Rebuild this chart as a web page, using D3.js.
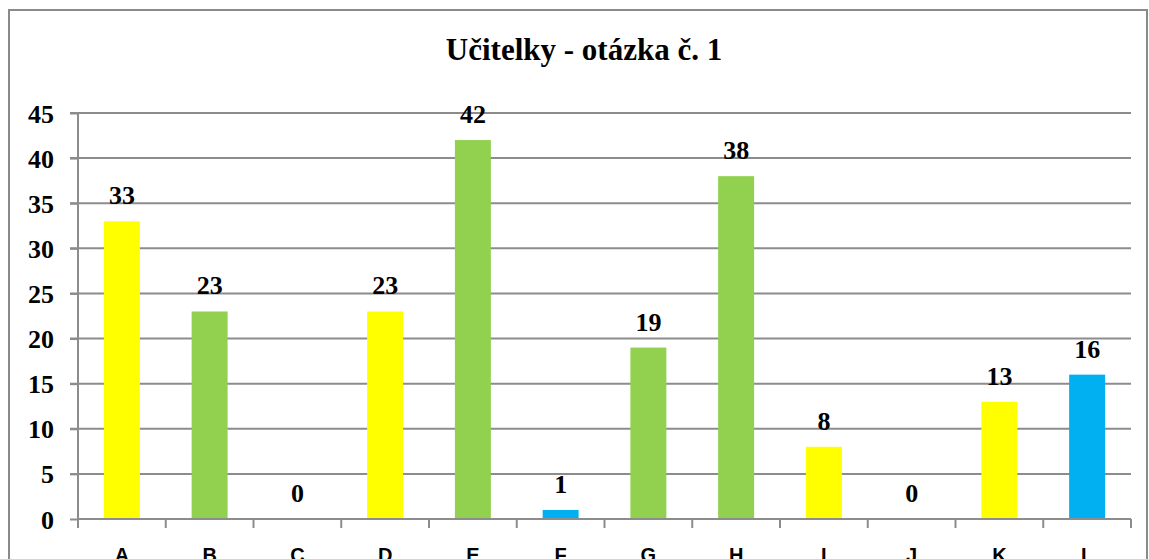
<!DOCTYPE html>
<html>
<head>
<meta charset="utf-8">
<script src="https://cdn.jsdelivr.net/npm/d3@7"></script>
<style>
  body { margin: 0; background: #fff; }
  svg { display: block; }
</style>
</head>
<body>
<div id="chart"></div>
<script>

var title = "Učitelky - otázka č. 1"

var categories = ["A", "B", "C", "D", "E", "F", "G", "H", "I", "J", "K", "L"]

var values = [33, 23, 0, 23, 42, 1, 19, 38, 8, 0, 13, 16]

var barColors = ["#FFFF00", "#92D050", "#92D050", "#FFFF00", "#92D050", "#00B0F0",
                 "#92D050", "#92D050", "#FFFF00", "#FFFF00", "#FFFF00", "#00B0F0"]

var yTicks = [0, 5, 10, 15, 20, 25, 30, 35, 40, 45]

var width = 1149
var height = 559

// plot area edges (window.top is read-only, so no plain "top")
var plotLeft = 78, plotRight = 1131, plotTop = 113, plotBottom = 519

var gridColor = "#8c8c8c"

var svg = d3.select("#chart")
	.append("svg")
	.attr("width", width)
	.attr("height", height)

// outer chart border (bottom runs off the picture)
svg.append("rect")
	.attr("x", 9)
	.attr("y", 10)
	.attr("width", 1138)
	.attr("height", 600)
	.attr("fill", "none")
	.attr("stroke", "#8a8a8a")
	.attr("stroke-width", 2)

svg.append("text")
	.attr("x", 584)
	.attr("y", 60)
	.attr("text-anchor", "middle")
	.attr("font-family", "'Liberation Serif', 'Times New Roman', serif")
	.attr("font-weight", "bold")
	.attr("font-size", 31)
	.text(title)

var x = d3.scaleBand()
	.domain(categories)
	.range([plotLeft, plotRight])
	.paddingInner(0.59)
	.paddingOuter(0.295)

var y = d3.scaleLinear()
	.domain([0, 45])
	.range([plotBottom, plotTop])

// gridlines
svg.append("g")
	.selectAll("line")
	.data(yTicks.filter(d => d > 0))
	.join("line")
	.attr("x1", plotLeft - 8)
	.attr("x2", plotRight)
	.attr("y1", d => y(d))
	.attr("y2", d => y(d))
	.attr("stroke", gridColor)
	.attr("stroke-width", 2)

// y axis
var yAxis = svg.append("g")
	.attr("transform", `translate(${plotLeft},0)`)
	.call(d3.axisLeft(y).tickValues(yTicks).tickSize(8).tickPadding(16))

yAxis.select(".domain")
	.attr("stroke", gridColor)
	.attr("stroke-width", 2)
	.attr("d", `M0,${plotBottom + 8}V${plotTop}`)

yAxis.selectAll(".tick line")
	.attr("stroke", gridColor)
	.attr("stroke-width", 2)

yAxis.selectAll(".tick text")
	.attr("font-family", "'Liberation Serif', 'Times New Roman', serif")
	.attr("font-weight", "bold")
	.attr("font-size", 26)
	.attr("fill", "#000")
	.attr("dy", "0.35em")

// bars
svg.append("g")
	.selectAll("rect")
	.data(values)
	.join("rect")
	.attr("x", (d, i) => x(categories[i]))
	.attr("y", d => y(d))
	.attr("width", x.bandwidth())
	.attr("height", d => y(0) - y(d))
	.attr("fill", (d, i) => barColors[i])

// x axis
var boundaries = categories.map(c => x(c) - x.step() * x.paddingInner() / 2)
boundaries.push(plotRight)

var xAxis = svg.append("g")

xAxis.append("line")
	.attr("x1", plotLeft)
	.attr("x2", plotRight)
	.attr("y1", plotBottom)
	.attr("y2", plotBottom)
	.attr("stroke", gridColor)
	.attr("stroke-width", 2)

xAxis.selectAll("line.tick")
	.data(boundaries)
	.join("line")
	.attr("class", "tick")
	.attr("x1", d => d)
	.attr("x2", d => d)
	.attr("y1", plotBottom)
	.attr("y2", plotBottom + 9)
	.attr("stroke", gridColor)
	.attr("stroke-width", 2)

xAxis.selectAll("text")
	.data(categories)
	.join("text")
	.attr("x", d => x(d) + x.bandwidth() / 2)
	.attr("y", 562)
	.attr("text-anchor", "middle")
	.attr("font-family", "'Liberation Sans', Arial, sans-serif")
	.attr("font-weight", "bold")
	.attr("font-size", 20)
	.text(d => d)

// data labels
svg.append("g")
	.selectAll("text")
	.data(values)
	.join("text")
	.attr("x", (d, i) => x(categories[i]) + x.bandwidth() / 2)
	.attr("y", d => y(d) - 17)
	.attr("text-anchor", "middle")
	.attr("font-family", "'Liberation Serif', 'Times New Roman', serif")
	.attr("font-weight", "bold")
	.attr("font-size", 26)
	.text(d => d)

</script>
</body>
</html>
